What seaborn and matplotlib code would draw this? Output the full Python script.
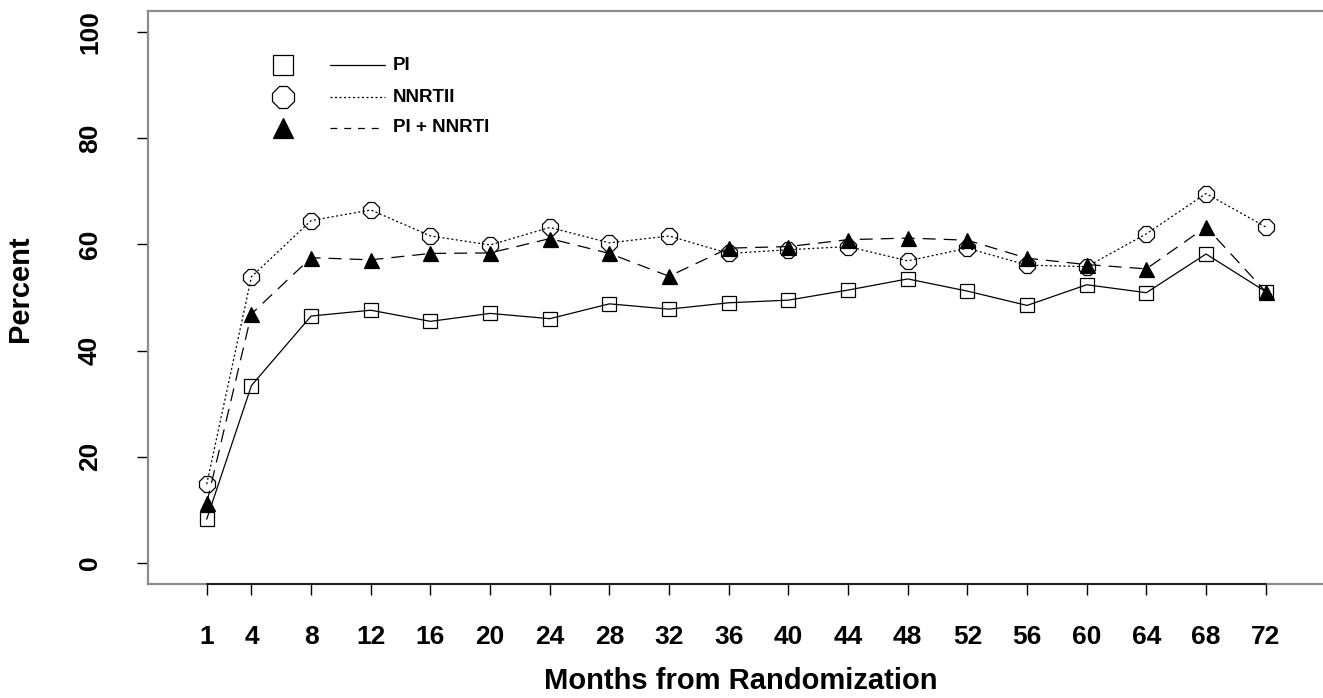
import matplotlib
matplotlib.use("Agg")
import matplotlib.pyplot as plt
import seaborn as sns
from matplotlib.lines import Line2D
from matplotlib.spines import Spine

# Percent of patients by month since randomization, per regimen
months = [1, 4, 8, 12, 16, 20, 24, 28, 32, 36, 40, 44, 48, 52, 56, 60, 64, 68, 72]
pi_pct = [8.2, 33.4, 46.5, 47.6, 45.5, 47.0, 46.0, 48.8, 47.8, 49.0,
          49.5, 51.4, 53.5, 51.2, 48.5, 52.4, 50.9, 58.2, 51.1]
nnrti_pct = [14.8, 53.9, 64.5, 66.5, 61.6, 59.9, 63.2, 60.3, 61.6, 58.3,
             59.0, 59.6, 56.9, 59.3, 56.1, 55.8, 62.0, 69.6, 63.3]
combo_pct = [11.2, 46.9, 57.5, 57.1, 58.3, 58.4, 61.1, 58.3, 54.0, 59.3,
             59.6, 60.9, 61.2, 60.8, 57.4, 56.2, 55.4, 63.3, 51.1]
series_names = ["PI", "NNRTII", "PI + NNRTI"]
y_ticks = [0, 20, 40, 60, 80, 100]

sns.set_theme(style="white")
plt.rcParams["font.family"] = ["Liberation Sans", "DejaVu Sans"]
plt.rcParams["font.weight"] = "bold"
for key in ["text.color", "axes.labelcolor", "xtick.color", "ytick.color"]:
    plt.rcParams[key] = "black"

W, H = 1323, 698
fig = plt.figure(figsize=(W / 100, H / 100), dpi=100)


def fx(px):
    return px / W


def fy(py):
    return 1 - py / H


# plot region runs past the right edge of the canvas
left_px, right_px = 147.7, 1363.0
ax = fig.add_axes([fx(left_px), fy(583.5), fx(right_px) - fx(left_px),
                   fy(10.5) - fy(583.5)])

LW = 0.9
styles = [
    dict(marker="s", markersize=10.3, markerfacecolor="none",
         linestyle="-", legend_ms=13.7, legend_ls="-"),
    dict(marker="8", markersize=11.8, markerfacecolor="none",
         linestyle=(0, (1.6, 2.0)), legend_ms=16.4, legend_ls=(0, (1.6, 2.0))),
    dict(marker="^", markersize=10.8, markerfacecolor="black",
         linestyle=(0, (10.4, 6.4)), legend_ms=14.4, legend_ls=(0, (5.5, 5.5))),
]

for values, st in zip([pi_pct, nnrti_pct, combo_pct], styles):
    sns.lineplot(x=months, y=values, ax=ax, color="black",
                 marker=st["marker"], markersize=st["markersize"],
                 markerfacecolor=st["markerfacecolor"],
                 markeredgecolor="black", markeredgewidth=0.9,
                 linewidth=LW, linestyle=st["linestyle"],
                 estimator=None, sort=False, legend=False)

px_per_month = (1265.7 - 206.7) / (months[-1] - months[0])
x_lo = months[0] - (206.7 - left_px) / px_per_month
x_hi = months[-1] + (right_px - 1265.7) / px_per_month
ax.set_xlim(x_lo, x_hi)
ax.set_ylim(-3.92, 104.1)
ax.set_xticks(months)
ax.set_xticklabels([str(m) for m in months])
ax.set_yticks(y_ticks)
ax.set_yticklabels([str(t) for t in y_ticks])

# grey frame on three sides, black axis line spanning the month ticks
frame_color = "#8c8c8c"
for side in ["left", "top", "bottom"]:
    ax.spines[side].set_color(frame_color)
    ax.spines[side].set_linewidth(1.6)
ax.spines["right"].set_visible(False)
axis_line = Spine.linear_spine(ax, "bottom")
axis_line.set_position(("axes", 0.0))
axis_line.set_bounds(months[0], months[-1])
axis_line.set_color("black")
axis_line.set_linewidth(1.1)
axis_line.set_zorder(3)
ax.spines["month_axis"] = axis_line

ax.tick_params(axis="x", bottom=True, length=7.9, width=1.0, color="black",
               pad=22, labelsize=19, direction="out")
ax.tick_params(axis="y", left=True, length=7.9, width=1.0, color="black",
               pad=25, labelsize=19, direction="out", labelrotation=90)
for t in ax.get_yticklabels():
    t.set_va("center")
    t.set_fontweight("bold")
for t in ax.get_xticklabels():
    t.set_fontweight("bold")

ax_w = right_px - left_px
ax.set_xlabel("Months from Randomization", fontsize=21, fontweight="bold")
ax.xaxis.label.set_va("center")
ax.xaxis.set_label_coords((741 - left_px) / ax_w, (583.5 - 681) / 573)
ax.set_ylabel("Percent", fontsize=21, fontweight="bold")
ax.yaxis.label.set_va("center")
ax.yaxis.set_label_coords((20 - left_px) / ax_w, (583.5 - 289) / 573)

# legend: marker column, line sample column, label column
for name, st, row_y in zip(series_names, styles, [65, 97, 128]):
    face = st["markerfacecolor"] if st["markerfacecolor"] != "none" else "white"
    fig.add_artist(Line2D([fx(283)], [fy(row_y)], transform=fig.transFigure,
                          marker=st["marker"], markersize=st["legend_ms"],
                          markerfacecolor=face,
                          markeredgecolor="black", markeredgewidth=0.9,
                          linestyle="none"))
    fig.add_artist(Line2D([fx(330), fx(385)], [fy(row_y), fy(row_y)],
                          transform=fig.transFigure, color="black",
                          linewidth=LW, linestyle=st["legend_ls"]))
    fig.text(fx(393), fy(row_y), name, ha="left", va="center",
             fontsize=13.5, fontweight="bold")

fig.savefig("out.png", dpi=100)
